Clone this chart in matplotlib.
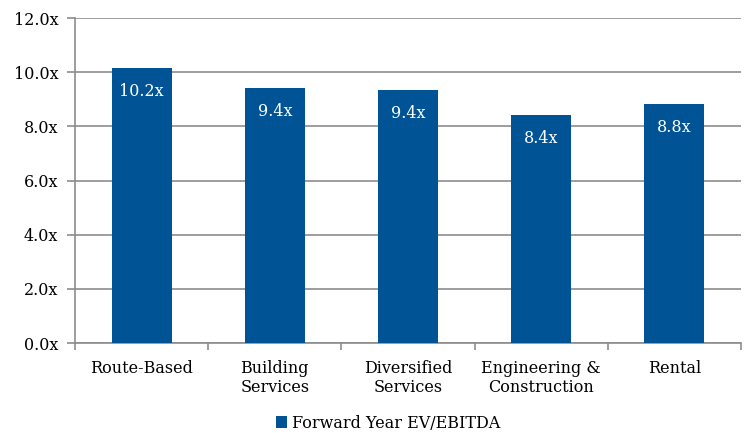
import matplotlib
matplotlib.use("Agg")
import matplotlib.pyplot as plt
import numpy as np

categories = ["Route-Based", "Building\nServices", "Diversified\nServices",
              "Engineering &\nConstruction", "Rental"]
values = [10.16, 9.41, 9.34, 8.41, 8.84]
labels = ["10.2x", "9.4x", "9.4x", "8.4x", "8.8x"]
yticks = [0, 2, 4, 6, 8, 10, 12]

plt.rcParams['font.family'] = ['DejaVu Serif']
bar_color = '#005496'
grid_color = '#8c8c8c'

fig = plt.figure(figsize=(7.48, 4.33), dpi=100)
ax = fig.add_axes([75/748, 1 - 343/433, 666/748, 325/433])

x = np.arange(len(categories))
ax.bar(x, values, width=0.45, color=bar_color, zorder=3,
       label="Forward Year EV/EBITDA")
for xi, v, lab in zip(x, values, labels):
    ax.annotate(lab, (xi, v), xytext=(0, -17), textcoords='offset points',
                ha='center', va='center', color='white', fontsize=11.5)

ax.set_xlim(-0.5, len(categories) - 0.5)
ax.set_ylim(0, 12)
ax.set_yticks(yticks)
ax.set_yticklabels([f"{t:.1f}x" for t in yticks], fontsize=11.5)
ax.yaxis.grid(True, color=grid_color, linewidth=1.2, zorder=0)

ax.set_xticks(x)
ax.set_xticklabels(categories, fontsize=11.5)
ax.set_xticks(np.arange(len(categories) + 1) - 0.5, minor=True)
ax.tick_params(axis='x', which='major', length=0, pad=12)
ax.tick_params(axis='x', which='minor', length=5, color=grid_color, width=1.2)
ax.tick_params(axis='y', length=6, color=grid_color, width=1.2, pad=6)

for s in ['top', 'right']:
    ax.spines[s].set_visible(False)
for s in ['left', 'bottom']:
    ax.spines[s].set_color(grid_color)
    ax.spines[s].set_linewidth(1.2)

fig.legend(loc='center', bbox_to_anchor=(388/748, 1 - 423/433), frameon=False,
           fontsize=11.5, handlelength=0.7, handleheight=0.7, handletextpad=0.3,
           borderpad=0)

fig.savefig("out.png", dpi=100)
